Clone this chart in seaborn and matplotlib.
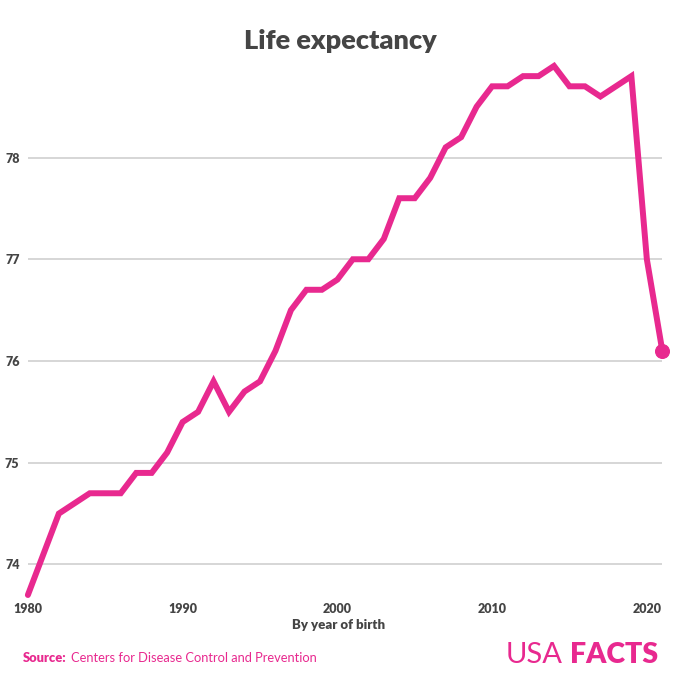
import matplotlib
matplotlib.use("Agg")
import matplotlib.pyplot as plt
import seaborn as sns
import pandas as pd

years = list(range(1980, 2022))
life_expectancy = [73.7, 74.1, 74.5, 74.6, 74.7, 74.7, 74.7, 74.9, 74.9, 75.1,
                   75.4, 75.5, 75.8, 75.5, 75.7, 75.8, 76.1, 76.5, 76.7, 76.7,
                   76.8, 77.0, 77.0, 77.2, 77.6, 77.6, 77.8, 78.1, 78.2, 78.5,
                   78.7, 78.7, 78.8, 78.8, 78.9, 78.7, 78.7, 78.6, 78.7, 78.8,
                   77.0, 76.1]
y_ticks = [74, 75, 76, 77, 78]
x_ticks = [1980, 1990, 2000, 2010, 2020]

df = pd.DataFrame({"year": years, "life": life_expectancy})

sns.set_theme(style="white")
plt.rcParams["font.family"] = ["Lato", "DejaVu Sans"]

PINK = "#E8298F"
DARK = "#454545"

fig = plt.figure(figsize=(6.8, 6.8), dpi=100)
ax = fig.add_axes([0.041, 0.125, 0.933, 0.778])

sns.lineplot(data=df, x="year", y="life", ax=ax, color=PINK, linewidth=4.3,
             solid_capstyle="round", solid_joinstyle="miter", clip_on=False, zorder=3)
last = df.iloc[[-1]]
sns.scatterplot(data=last, x="year", y="life", ax=ax, color=PINK, s=100,
                edgecolor=PINK, clip_on=False, zorder=4, legend=False)

ax.set_xlim(1980, 2021)
ax.set_ylim(73.7, 78.9)
ax.set_yticks(y_ticks)
ax.set_xticks(x_ticks)
ax.set_yticklabels([str(t) for t in y_ticks])
ax.set_xticklabels([str(t) for t in x_ticks])
ax.yaxis.grid(True, color="#D0D0D0", linewidth=1.2)
ax.xaxis.grid(False)
for s in ax.spines.values():
    s.set_visible(False)
ax.tick_params(axis="both", length=0, labelsize=9, labelcolor=DARK)
ax.tick_params(axis="y", pad=6)
ax.tick_params(axis="x", pad=6)
for lbl in ax.get_xticklabels() + ax.get_yticklabels():
    lbl.set_fontweight("heavy")
ax.set_ylabel("")
ax.set_xlabel("By year of birth", fontsize=9.5, fontweight="heavy", color=DARK, labelpad=6)
ax.xaxis.set_label_coords(0.49, -0.045)

fig.text(0.5, 0.94, "Life expectancy", ha="center", va="center", fontsize=19.5,
         fontweight="heavy", color=DARK)

fig.text(0.034, 0.032, "Source:", ha="left", va="center", fontsize=9.3,
         fontweight="heavy", color=PINK)
fig.text(0.104, 0.032, "Centers for Disease Control and Prevention", ha="left",
         va="center", fontsize=9.3, color=PINK)

fig.text(0.827, 0.037, "USA", ha="right", va="center", fontsize=21,
         fontweight="normal", color=PINK)
fig.text(0.838, 0.037, "FACTS", ha="left", va="center", fontsize=20.5,
         fontweight="heavy", color=PINK)

fig.savefig("out.png", dpi=100, facecolor="white")
